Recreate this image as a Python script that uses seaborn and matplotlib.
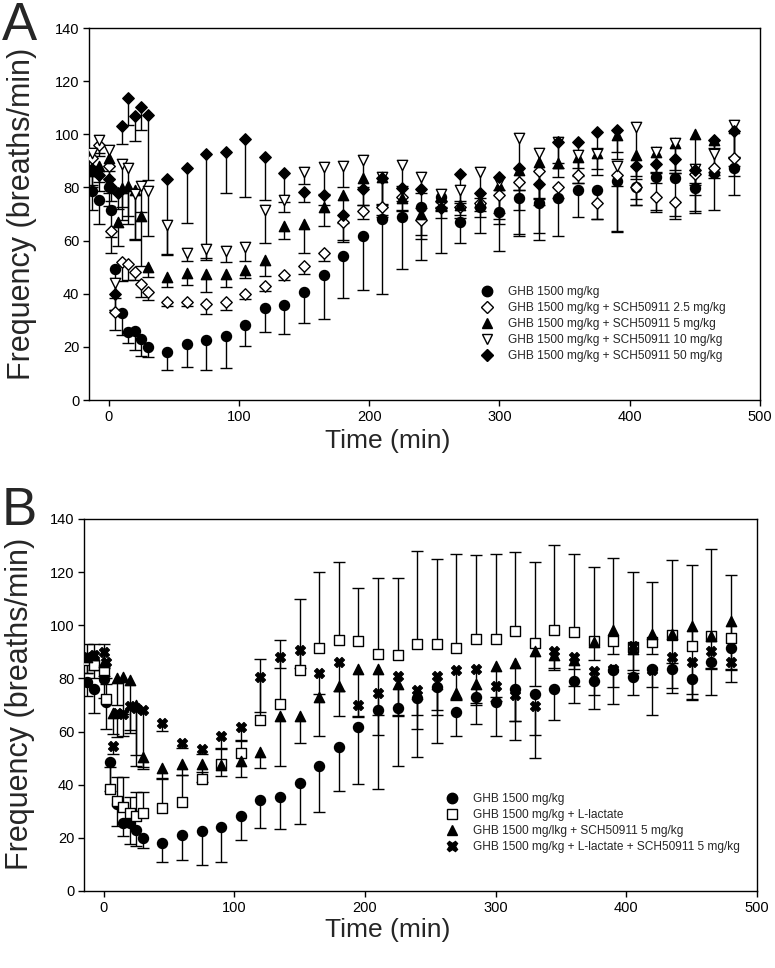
import numpy as np
import pandas as pd
import matplotlib
matplotlib.use("Agg")
import matplotlib.pyplot as plt
from matplotlib.lines import Line2D
from matplotlib import font_manager
import seaborn as sns

nan = np.nan

# ---------------- data ----------------
time_min = [-13, -7, 0, 2, 5, 7, 10, 15, 20, 25, 30,
            45, 60, 75, 90, 105, 120, 135, 150, 165, 180, 195, 210, 225, 240,
            255, 270, 285, 300, 315, 330, 345, 360, 375, 390, 405, 420, 435, 450, 465, 480]

# Panel A
labels_a = ["GHB 1500 mg/kg",
            "GHB 1500 mg/kg + SCH50911 2.5 mg/kg",
            "GHB 1500 mg/kg + SCH50911 5 mg/kg",
            "GHB 1500 mg/kg + SCH50911 10 mg/kg",
            "GHB 1500 mg/kg + SCH50911 50 mg/kg"]

ghb_a = [78.5, 75.3, 80.0, 71.5, 49.2, nan, 32.6, 25.7, 26.0, 23.0, 20.1,
         18.2, 21.0, 22.6, 23.9, 28.3, 34.5, 35.8, 40.8, 47.0, 54.2, 61.9, 68.0, 69.0, 72.8,
         76.5, 67.1, 72.8, 70.9, 75.9, 74.3, 75.9, 79.0, 79.0, 82.5, 80.3, 83.8, 83.4, 79.7, 85.6, 87.2]
ghb_a_err = [7, 9, 7, 10, 11, nan, 8, 4.4, 7, 6.4, 4,
             7, 8.4, 11.3, 12, 8, 9, 11, 12, 16.5, 16, 20.5, 28, 19.7, 20,
             21, 8, 10, 15, 14, 14, 14, 10, 11, 19, 7, 13, 14, 9.5, 14, 10]

sch25_a = [91, 96, 88, 63.5, 33.3, nan, 51.9, 51.1, 48.0, 43.6, 40.8,
           36.7, 36.7, 36.0, 36.8, 40.0, 43.0, 47.0, 50.4, 55.2, 67.1, 71.1, 72.8, 76.5, 67.7,
           75.0, 72.8, 74.0, 77.1, 82.2, 86.2, 80.0, 84.7, 74.2, 84.7, 80.2, 76.5, 74.6, 85.0, 87.5, 90.9]
sch25_a_err = [5, 4, 5, 8, 7, nan, 7, 6, 3, 5, 3,
               1.5, 1.5, 3.5, 3, 2, 2, 2, 3, 3, 7.5, 3, 3, 5, 7,
               4, 3, 3, 11, 3, 10, 4, 3, 6, 4, 7, 5, 6.5, 4, 4, 3]

sch5_a = [86, 88, 91, nan, nan, 67.0, 79.7, 80.4, 79.1, 69.3, 50.2,
          46.2, 47.7, 47.5, 47.4, 49.0, 52.6, 65.5, 66.2, 72.8, 77.2, 83.5, 84.0, 76.2, 70.0,
          76.5, 73.4, 74.0, 81.0, 86.6, 89.7, 89.1, 91.5, 93.0, 99.7, 92.2, 93.4, 96.6, 100.0, 97.8, 102.3]
sch5_a_err = [6, 6, 5, nan, nan, 9, 12, 14, 19, 19, 4,
              3.5, 4.4, 7, 5, 3, 6, 5, 11, 7.5, 17, 10, 15, 5, 8,
              5, 5, 5, 13, 15, 14, 5, 10, 6, 9, 8, 7.5, 11, 29, 12, 18]

sch10_a = [93, 98, 94, nan, 43.9, nan, 88.8, 87.3, 77.6, 80.7, 78.7,
           65.7, 55.5, 56.8, 55.9, 57.4, 71.6, 75.3, 85.9, 87.6, 88.1, 90.3, 83.8, 88.5, 84.0,
           77.5, 79.0, 85.9, 82.2, 98.5, 92.8, 97.2, 92.2, 92.5, 88.1, 102.8, 93.4, 96.6, 87.1, 92.7, 103.5]
sch10_a_err = [5, 5, 6, nan, 10, nan, 16, 18, 17, 10, 17,
               11, 3, 4, 4, 5, 12.5, 4.5, 4.5, 10, 8, 10, 10, 8, 6,
               5, 5, 10, 12, 36, 30, 10, 8, 8, 25, 27, 8, 10, 10, 8, 12]

sch50_a = [87, 84.5, 83, 80, 40, 78, 103.2, 113.5, 106.7, 110.1, 107.4,
           83.0, 87.5, 92.5, 93.5, 98.3, 91.3, 85.5, 78.4, 77.2, 69.5, 79.3, 83.4, 79.9, 79.3,
           72.4, 84.9, 77.8, 84.0, 87.2, 81.3, 97.2, 97.2, 100.7, 101.5, 88.1, 88.8, 90.6, 86.6, 97.8, 101.4]
sch50_a_err = [6, 6, 5, 5, 6, 6, 7, 10, 9.4, 8.4, 24.5,
               28, 21, 39, 15.7, 22, 16, 11, 4, 4, 3, 6, 10, 5, 7,
               4, 10, 5, 5, 8, 8, 8, 10, 6, 8, 5, 7, 5, 5, 3, 10]

# Panel B
labels_b = ["GHB 1500 mg/kg",
            "GHB 1500 mg/kg + L-lactate",
            "GHB 1500 mg/lkg + SCH50911 5 mg/kg",
            "GHB 1500 mg/kg + L-lactate + SCH50911 5 mg/kg"]

ghb_b = [78.5, 76.0, 79.7, 71.0, 48.7, nan, 32.6, 25.7, 25.7, 23.0, 20.1,
         18.2, 21.1, 22.4, 23.9, 28.3, 34.3, 35.5, 40.8, 47.2, 54.2, 61.9, 68.0, 68.8, 72.6,
         76.8, 67.3, 72.9, 71.1, 76.0, 74.2, 76.0, 79.1, 79.1, 83.3, 80.4, 83.7, 83.5, 79.8, 86.0, 91.4]
ghb_b_err = [5, 9, 7, 10, 11, nan, 8, 5, 8, 6, 4,
             7.2, 9.4, 12.6, 13, 9, 10.5, 12.3, 15.5, 17.5, 16.4, 21.7, 29.5, 21.7, 22.3,
             21, 9, 10, 12.7, 19, 24, 11.8, 8.4, 10.6, 13, 6.5, 17.6, 8.8, 7.6, 12.3, 12.8]

lac_b = [87, 85, 83, 72.2, 38.5, nan, 34.0, 31.8, 29.5, 28.3, 29.3,
         31.4, 33.4, 42.1, 47.8, 51.9, 64.4, 70.3, 83.0, 91.4, 94.3, 93.9, 89.2, 88.7, 92.9,
         92.9, 91.4, 95.0, 95.0, 98.0, 93.3, 98.3, 97.3, 94.2, 94.2, 92.0, 93.7, 96.2, 92.3, 96.1, 95.2]
lac_b_err = [6, 8, 10, 8, 8, nan, 9, 11, 6, 9, 8,
             10.7, 10.3, 2.5, 6, 5, 23, 24, 27, 28.5, 29.4, 20, 28.6, 29, 35,
             32, 35.4, 31.3, 31.8, 29.5, 30.4, 32, 29.5, 27.6, 31, 28, 22.6, 28.3, 30.3, 32.6, 23.6]

tri_b = [88, 89, 86, nan, nan, 67.0, 80.1, 80.5, 79.5, 70.0, 50.6,
         46.2, 47.8, 47.8, 47.5, 49.0, 52.5, 65.9, 65.9, 72.9, 77.3, 83.7, 83.7, 78.0, 74.0,
         78.0, 74.7, 78.0, 84.5, 85.8, 90.2, 89.0, 87.0, 93.6, 98.1, 91.0, 96.7, 96.7, 99.9, 96.1, 101.7]
tri_b_err = [6, 6, 5, nan, nan, 8, 10, 14, 19, 19, 4,
             3.8, 4, 6.6, 4.4, 6, 6.3, 19, 10.3, 14.4, 11.6, 18, 25, 12, 13,
             10, 3, 8, 13, 22, 13, 5, 10, 6.6, 9, 8, 7.5, 11, 28, 12, 18]

x_b = [88, 89, 90, 86, nan, 54.4, 67.0, 66.5, 69.5, 69.0, 68.0,
       63.3, 55.7, 53.6, 58.3, 61.6, 80.5, 88.0, 90.8, 82.0, 86.2, 70.1, 74.7, 80.8, 75.7,
       80.8, 83.3, 83.5, 77.0, 73.9, 69.5, 90.2, 87.9, 82.7, 83.7, 92.1, 83.3, 88.1, 86.0, 90.2, 86.0]
x_b_err = [6, 9, 6, 8, nan, 3, 9, 8, 10, 22, 22,
           3, 2, 2, 5, 5, 13, 4, 7, 8, 11, 4.6, 8.4, 14.5, 9.6,
           14.5, 11, 12.8, 4, 10, 10.7, 7, 4.4, 9, 7, 10, 6.5, 11.7, 12, 6.5, 2.7]

# ---------------- styling ----------------
sns.set_style("ticks")
avail = {f.name for f in font_manager.fontManager.ttflist}
base_font = "Liberation Sans" if "Liberation Sans" in avail else "DejaVu Sans"
narrow_font = "Liberation Sans Narrow" if "Liberation Sans Narrow" in avail else None
plt.rcParams["font.family"] = [base_font, "DejaVu Sans"]

def build(series, labels, directions):
    frames = []
    for (vals, errs), lab, d in zip(series, labels, directions):
        frames.append(pd.DataFrame({"time": time_min, "freq": vals, "err": errs,
                                    "group": lab, "dir": d}))
    df = pd.concat(frames, ignore_index=True)
    return df.dropna(subset=["freq"])

df_a = build([(ghb_a, ghb_a_err), (sch25_a, sch25_a_err), (sch5_a, sch5_a_err),
              (sch10_a, sch10_a_err), (sch50_a, sch50_a_err)],
             labels_a, [-1, -1, -1, -1, -1])
df_b = build([(ghb_b, ghb_b_err), (lac_b, lac_b_err), (tri_b, tri_b_err), (x_b, x_b_err)],
             labels_b, [-1, 1, -1, -1])

markers_a = dict(zip(labels_a, ["o", "D", "^", "v", "D"]))
colors_a = dict(zip(labels_a, ["black", "white", "black", "white", "black"]))
sizes_a = dict(zip(labels_a, [52, 34, 55, 55, 34]))
markers_b = dict(zip(labels_b, ["o", "s", "^", "X"]))
colors_b = dict(zip(labels_b, ["black", "white", "black", "black"]))
sizes_b = dict(zip(labels_b, [52, 42, 55, 50]))

W, H = 775, 968
fig = plt.figure(figsize=(W / 100, H / 100), dpi=100)
fig.patch.set_facecolor("white")

def px_axes(left, right, top, bottom):
    return fig.add_axes([left / W, 1 - bottom / H, (right - left) / W, (bottom - top) / H])

ax_a = px_axes(89, 760, 28, 400)
ax_b = px_axes(84, 757, 519, 891)

def draw(ax, df, labels, markers, colors, sizes):
    for lab in labels:
        sub = df[df["group"] == lab].dropna(subset=["err"])
        end = sub["freq"] + sub["dir"] * sub["err"]
        ax.vlines(sub["time"], sub["freq"], end, color="black", lw=1.0, zorder=2)
        ax.plot(sub["time"], end, ls="none", marker="_", ms=8, mew=1.0,
                color="black", zorder=2)
    for lab in labels:
        sub = df[df["group"] == lab]
        sns.scatterplot(data=sub, x="time", y="freq", marker=markers[lab],
                        color=colors[lab], edgecolor="black", linewidth=1.0,
                        s=sizes[lab], legend=False, ax=ax, zorder=3)
    ax.set_xlim(-15, 500)
    ax.set_ylim(0, 140)
    ax.set_xticks(range(0, 501, 100))
    ax.set_yticks(range(0, 141, 20))
    ax.set_xlabel("")
    ax.set_ylabel("")
    for s in ax.spines.values():
        s.set_visible(True)
        s.set_color("black")
        s.set_linewidth(1.0)
    ax.tick_params(direction="out", length=4, width=1, labelsize=10.5, pad=3,
                   top=False, right=False, colors="black")
    ax.set_facecolor("white")
    handles = [Line2D([], [], ls="none", marker=markers[l], markersize=7.5 if markers[l] != "D" else 6.5,
                      markerfacecolor=colors[l], markeredgecolor="black", mew=1.0)
               for l in labels]
    return handles

h_a = draw(ax_a, df_a, labels_a, markers_a, colors_a, sizes_a)
h_b = draw(ax_b, df_b, labels_b, markers_b, colors_b, sizes_b)

leg_kw = dict(frameon=False, fontsize=8.6, handlelength=1.0, handletextpad=1.3,
              labelspacing=0.33, borderpad=0, borderaxespad=0, loc="upper left")
ax_a.legend(h_a, labels_a, bbox_to_anchor=((481 - 89) / 671, (400 - 286) / 372), **leg_kw)
ax_b.legend(h_b, labels_b, bbox_to_anchor=((446 - 84) / 673, (891 - 793) / 372), **leg_kw)

xl_font = dict(family=[narrow_font, base_font] if narrow_font else [base_font],
               fontsize=23 if narrow_font else 19)
for cy in (441, 930):
    fig.text(388 / W, 1 - cy / H, "Time (min)", ha="center", va="center", **xl_font)
for cx, cy in ((22, 214), (20, 704)):
    fig.text(cx / W, 1 - cy / H, "Frequency (breaths/min)", rotation=90,
             ha="center", va="center", fontsize=22)

fig.text(2 / W, 1 - 1 / H, "A", ha="left", va="top", fontsize=38)
fig.text(2 / W, 1 - 486 / H, "B", ha="left", va="top", fontsize=38)

fig.savefig("out.png", dpi=100, facecolor="white")
